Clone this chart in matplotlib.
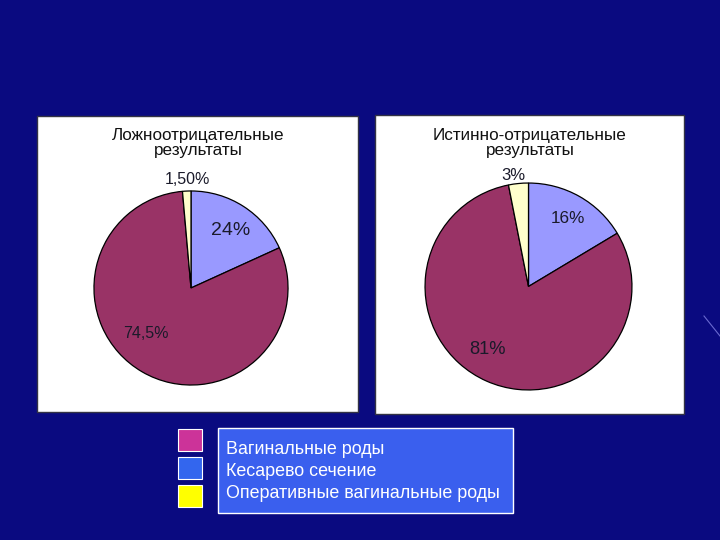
import matplotlib
matplotlib.use("Agg")
import matplotlib.pyplot as plt
from matplotlib.patches import Rectangle

plt.rcParams['font.family'] = ['Liberation Sans', 'DejaVu Sans']

# Data
categories = ["Вагинальные роды", "Кесарево сечение", "Оперативные вагинальные роды"]
title_left = "Ложноотрицательные\nрезультаты"
title_right = "Истинно-отрицательные\nрезультаты"
# wedge sizes as drawn, clockwise from top: Кесарево, Вагинальные, Оперативные
left_values = [18.2, 80.4, 1.4]
left_labels = ["24%", "74,5%", "1,50%"]
right_values = [16.4, 80.5, 3.1]
right_labels = ["16%", "81%", "3%"]

pie_colors = ["#9999FF", "#993366", "#FFFFCC"]
legend_colors = ["#CC3399", "#3366EE", "#FFFF00"]

W, H = 720, 540
fig = plt.figure(figsize=(7.2, 5.4), dpi=100)
fig.patch.set_facecolor("#0A0A80")

def px_axes(x0, y0, x1, y1):
    return fig.add_axes([x0 / W, 1 - y1 / H, (x1 - x0) / W, (y1 - y0) / H])

bg = fig.add_axes([0, 0, 1, 1])
bg.set_xlim(0, W)
bg.set_ylim(H, 0)
bg.axis("off")
bg.add_patch(Rectangle((37, 116), 321, 296, facecolor="white", edgecolor="#333344", lw=1.0))
bg.add_patch(Rectangle((375, 115), 309, 299, facecolor="white", edgecolor="#333344", lw=1.0))
bg.plot([704, 720], [316, 336], color="#6a6ad0", lw=0.8)

def draw_pie(cx, cy, r, values, labels, label_pos, title, title_x, title_y, label_sizes):
    ax = px_axes(cx - r, cy - r, cx + r, cy + r)
    ax.pie(values, colors=pie_colors, startangle=90, counterclock=False,
           wedgeprops=dict(edgecolor="black", linewidth=0.9), radius=1)
    ax.set_xlim(-1.01, 1.01)
    ax.set_ylim(-1.01, 1.01)
    ax.set_aspect("equal")
    ax.axis("off")
    for lab, (lx, ly), fs in zip(labels, label_pos, label_sizes):
        ax.text(lx, ly, lab, ha="center", va="center", fontsize=fs, color="#1a1a2a",
                clip_on=False)
    bg.text(title_x, title_y, title, ha="center", va="center",
            fontsize=12.3, color="#111111", linespacing=1.0)

draw_pie(191, 288, 98, left_values, left_labels,
         [(0.41, 0.59), (-0.46, -0.47), (-0.04, 1.12)], title_left, 198, 143,
         [14, 11.5, 11.5])
draw_pie(528.5, 286.5, 104.5, right_values, right_labels,
         [(0.38, 0.66), (-0.40, -0.61), (-0.15, 1.07)], title_right, 530, 143,
         [12.3, 13.2, 12])

# legend
bg.add_patch(Rectangle((218, 428), 295, 85, facecolor="#3A5FEE", edgecolor="white", lw=1.0))
ys = [450, 471, 494]
sq_tops = [429, 457, 485]
for cat, col, y, st in zip(categories, legend_colors, ys, sq_tops):
    bg.add_patch(Rectangle((178, st), 24, 22, facecolor=col, edgecolor="white", lw=0.8))
    bg.text(226, y, cat, ha="left", va="center", fontsize=12.9, color="white")

fig.savefig("out.png", dpi=100, facecolor=fig.get_facecolor())
